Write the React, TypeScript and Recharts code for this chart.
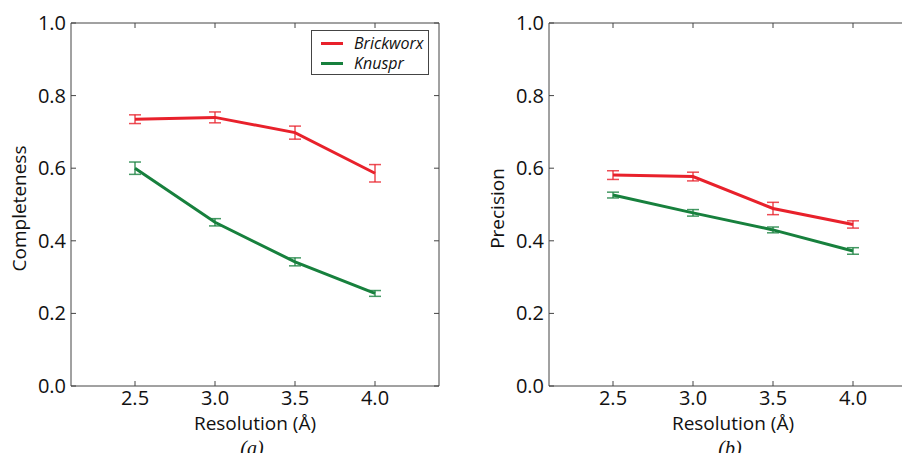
import { ErrorBar, Legend, Line, LineChart, XAxis, YAxis } from "recharts";

const resolution = [2.5, 3.0, 3.5, 4.0];
const brickCompleteness = [0.735, 0.74, 0.698, 0.586];
const brickCompletenessErr = [0.012, 0.015, 0.018, 0.024];
const knusprCompleteness = [0.6, 0.451, 0.342, 0.255];
const knusprCompletenessErr = [0.017, 0.01, 0.011, 0.008];
const brickPrecision = [0.581, 0.577, 0.489, 0.445];
const brickPrecisionErr = [0.012, 0.012, 0.017, 0.01];
const knusprPrecision = [0.526, 0.477, 0.43, 0.372];
const knusprPrecisionErr = [0.008, 0.009, 0.008, 0.009];

const xTicks = [2.5, 3.0, 3.5, 4.0];
const yTicks = [0, 0.2, 0.4, 0.6, 0.8, 1.0];

const completenessData = resolution.map((res, i) => ({
  res,
  b: brickCompleteness[i],
  bErr: brickCompletenessErr[i],
  k: knusprCompleteness[i],
  kErr: knusprCompletenessErr[i]
}));

const precisionData = resolution.map((res, i) => ({
  res,
  b: brickPrecision[i],
  bErr: brickPrecisionErr[i],
  k: knusprPrecision[i],
  kErr: knusprPrecisionErr[i]
}));

const RED = "#e8212b";
const GREEN = "#17803d";
const AXIS = "#444";
const FONT = "'Open Sans', sans-serif";

const BottomTick = (p: any) => (
  <g>
    <line x1={p.x} x2={p.x} y1={p.y} y2={p.y - 5} stroke={AXIS} />
    <text x={p.x} y={p.y + 19} textAnchor="middle" fontSize={20} fontFamily={FONT} fill="#111">
      {Number(p.payload.value).toFixed(1)}
    </text>
  </g>
);

const TopTick = (p: any) => <line x1={p.x} x2={p.x} y1={p.y} y2={p.y + 5} stroke={AXIS} />;

const LeftTick = (p: any) => (
  <g>
    <line x1={p.x} x2={p.x + 5} y1={p.y} y2={p.y} stroke={AXIS} />
    <text x={p.x - 5} y={p.y + 7} textAnchor="end" fontSize={20} fontFamily={FONT} fill="#111">
      {Number(p.payload.value).toFixed(1)}
    </text>
  </g>
);

const RightTick = (p: any) => <line x1={p.x} x2={p.x - 5} y1={p.y} y2={p.y} stroke={AXIS} />;

function LegendBox() {
  const items = [
    { name: "Brickworx", color: RED },
    { name: "Knuspr", color: GREEN }
  ];
  return (
    <div
      style={{
        border: `1px solid ${AXIS}`,
        background: "#fff",
        width: 118,
        height: 45,
        boxSizing: "border-box",
        padding: "2px 0 0 9px",
        fontFamily: FONT,
        fontStyle: "italic",
        fontSize: 16
      }}
    >
      {items.map((it) => (
        <div key={it.name} style={{ display: "flex", alignItems: "center", height: 20 }}>
          <span style={{ display: "inline-block", width: 22, height: 3, background: it.color, marginRight: 11 }} />
          <span style={{ color: "#111" }}>{it.name}</span>
        </div>
      ))}
    </div>
  );
}

function Panel(props: {
  data: any[];
  width: number;
  yWidth: number;
  right: number;
  yLabel: string;
  tag: string;
  legend?: boolean;
}) {
  const { data, width, yWidth, right, yLabel, tag, legend } = props;
  return (
    <LineChart width={width} height={461} data={data} margin={{ top: 22, right, bottom: 0, left: 0 }}>
      <XAxis
        dataKey="res"
        type="number"
        domain={[2.1, 4.4]}
        ticks={xTicks}
        allowDataOverflow
        height={75}
        tickLine={false}
        tickSize={0}
        tickMargin={0}
        tick={BottomTick}
        axisLine={{ stroke: AXIS }}
        label={(lp: any) => {
          const vb = lp.viewBox;
          const cx = vb.x + vb.width / 2;
          return (
            <g>
              <text x={cx} y={vb.y + 44} textAnchor="middle" fontSize={19} fontFamily={FONT} fill="#111">
                Resolution (Å)
              </text>
              <text
                x={cx - 3}
                y={vb.y + 69}
                textAnchor="middle"
                fontSize={20}
                fontStyle="italic"
                fontFamily="'Liberation Serif', serif"
                fill="#111"
              >
                ({tag})
              </text>
            </g>
          );
        }}
      />
      <XAxis
        xAxisId="top"
        orientation="top"
        dataKey="res"
        type="number"
        domain={[2.1, 4.4]}
        ticks={xTicks}
        allowDataOverflow
        height={1}
        tickLine={false}
        tickSize={0}
        tickMargin={0}
        tick={TopTick}
        axisLine={{ stroke: AXIS }}
      />
      <YAxis
        type="number"
        domain={[0, 1]}
        ticks={yTicks}
        allowDataOverflow
        width={yWidth}
        tickLine={false}
        tickSize={0}
        tickMargin={0}
        tick={LeftTick}
        axisLine={{ stroke: AXIS }}
        label={(lp: any) => {
          const vb = lp.viewBox;
          const cx = vb.x + yWidth - 52;
          const cy = vb.y + vb.height / 2 + 4;
          return (
            <text
              x={cx}
              y={cy}
              transform={`rotate(-90 ${cx} ${cy})`}
              textAnchor="middle"
              dominantBaseline="central"
              fontSize={19}
              fontFamily={FONT}
              fill="#111"
            >
              {yLabel}
            </text>
          );
        }}
      />
      <YAxis
        yAxisId="right"
        orientation="right"
        type="number"
        domain={[0, 1]}
        ticks={yTicks}
        allowDataOverflow
        width={1}
        tickLine={false}
        tickSize={0}
        tickMargin={0}
        tick={RightTick}
        axisLine={{ stroke: AXIS }}
      />
      {legend && (
        <Legend
          layout="vertical"
          align="center"
          verticalAlign="middle"
          content={() => <LegendBox />}
          wrapperStyle={{ position: "absolute", left: 311, top: 30, width: 118, height: 45 }}
        />
      )}
      <Line dataKey="b" stroke={RED} strokeWidth={3} dot={false} isAnimationActive={false}>
        <ErrorBar dataKey="bErr" direction="y" width={6} stroke={RED} strokeWidth={1.5} strokeOpacity={0.8} />
      </Line>
      <Line dataKey="k" stroke={GREEN} strokeWidth={3} dot={false} isAnimationActive={false}>
        <ErrorBar dataKey="kErr" direction="y" width={6} stroke={GREEN} strokeWidth={1.5} strokeOpacity={0.8} />
      </Line>
    </LineChart>
  );
}

export default function App() {
  return (
    <div style={{ position: "relative", width: 910, height: 461, overflow: "hidden", margin: -8, background: "#fff" }}>
      <div style={{ position: "absolute", left: 0, top: 0 }}>
        <Panel data={completenessData} width={450} yWidth={71} right={10} yLabel="Completeness" tag="a" legend />
      </div>
      <div style={{ position: "absolute", left: 460, top: 0 }}>
        <Panel data={precisionData} width={470} yWidth={89} right={12} yLabel="Precision" tag="b" />
      </div>
      <div
        style={{
          position: "absolute",
          left: 12,
          top: 455,
          fontFamily: FONT,
          fontWeight: 700,
          fontSize: 20,
          color: "#555",
          lineHeight: "20px"
        }}
      >
        Figure 8
      </div>
    </div>
  );
}
